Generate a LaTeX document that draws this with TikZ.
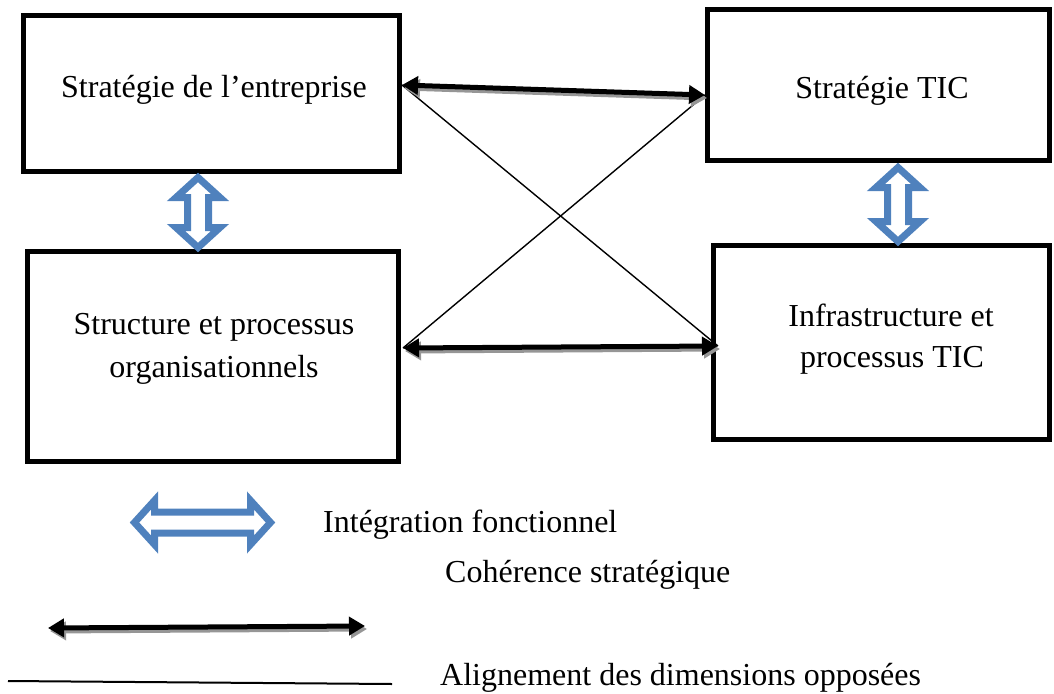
\documentclass[tikz,border=0pt]{standalone}
\usepackage{fontspec}
\setmainfont{Liberation Serif}
\usetikzlibrary{arrows.meta}
\definecolor{officeblue}{RGB}{79,129,189}
\definecolor{shadowgrey}{RGB}{150,150,150}

% hollow double-headed block arrow: #1 name, #2 centre, #3 angle, #4 half length
\newcommand\hollowdbl[4]{%
  \coordinate (#1) at #2;
  \begin{scope}[shift={#2}, rotate=#3]
    \draw[hollowarrow] (-#4,0) -- (-#4+20,22) -- (-#4+20,10.5) -- (#4-20,10.5)
      -- (#4-20,22) -- (#4,0) -- (#4-20,-22) -- (#4-20,-10.5) -- (-#4+20,-10.5)
      -- (-#4+20,-22) -- cycle;
  \end{scope}}

\begin{document}
\begin{tikzpicture}[x=1pt, y=-1pt,
  box/.style={draw, line width=5pt, inner sep=0pt, outer sep=0pt},
  lbl/.style={font=\fontsize{32}{42}\selectfont, inner sep=0pt, anchor=base},
  leg/.style={font=\fontsize{32}{42}\selectfont, inner sep=0pt, anchor=base west},
  hollowarrow/.style={draw=officeblue, fill=white, line width=7pt, line join=miter},
  boldarrow/.style={line width=5pt, {Triangle[length=16pt,width=18pt]}-{Triangle[length=16pt,width=18pt]}},
  boldshadow/.style={boldarrow, draw=shadowgrey, fill=shadowgrey},
  thin/.style={line width=1.4pt}]
  \useasboundingbox (0,0) rectangle (1054,693);

  % the four boxes
  \node[box, minimum width=376pt, minimum height=156pt] (b1) at (211.5,93.5) {};
  \node[box, minimum width=342pt, minimum height=151pt] (b2) at (878.5,85) {};
  \node[box, minimum width=371pt, minimum height=210pt] (b3) at (213,356.5) {};
  \node[box, minimum width=336pt, minimum height=194pt] (b4) at (881.5,342.5) {};

  % box texts
  \node[lbl] (t1) at (214,97) {Stratégie de l’entreprise};
  \node[lbl] (t2) at (882,98) {Stratégie TIC};
  \node[lbl] (t3a) at (214,334) {Structure et processus};
  \node[lbl] (t3b) at (214,377) {organisationnels};
  \node[lbl] (t4a) at (891,326) {Infrastructure et};
  \node[lbl] (t4b) at (892,367) {processus TIC};

  % arrow end points on the box borders
  \coordinate (tl) at (402,85);
  \coordinate (tr) at (705,95);
  \coordinate (bl) at (403,348);
  \coordinate (br) at (718,346);

  % crossing thin lines
  \draw[thin] (tl) -- (br);
  \draw[thin] (tr) -- (bl);

  % bold double arrows with shadows
  \draw[boldshadow] ([shift={(2,3)}]tl) -- ([shift={(2,3)}]tr);
  \draw[boldarrow] (tl) -- (tr);
  \draw[boldshadow] ([shift={(2,3)}]bl) -- ([shift={(2,3)}]br);
  \draw[boldarrow] (bl) -- (br);

  % vertical block arrows between the boxes
  \hollowdbl{v1}{(198,212.5)}{90}{35}
  \hollowdbl{v2}{(898,204.5)}{90}{37}

  % legend
  \hollowdbl{lg1}{(202.5,522.5)}{0}{68}
  \node[leg] (l1) at (323,532) {Intégration fonctionnel};
  \node[leg] (l2) at (445,582) {Cohérence stratégique};

  \coordinate (la) at (48,628);
  \coordinate (lb) at (365,626);
  \draw[boldshadow] ([shift={(2,3)}]la) -- ([shift={(2,3)}]lb);
  \draw[boldarrow] (la) -- (lb);

  \coordinate (lc) at (8,681);
  \coordinate (ld) at (392,684);
  \draw[line width=2pt] (lc) -- (ld);
  \node[leg] (l3) at (440,685) {Alignement des dimensions opposées};
\end{tikzpicture}
\end{document}
